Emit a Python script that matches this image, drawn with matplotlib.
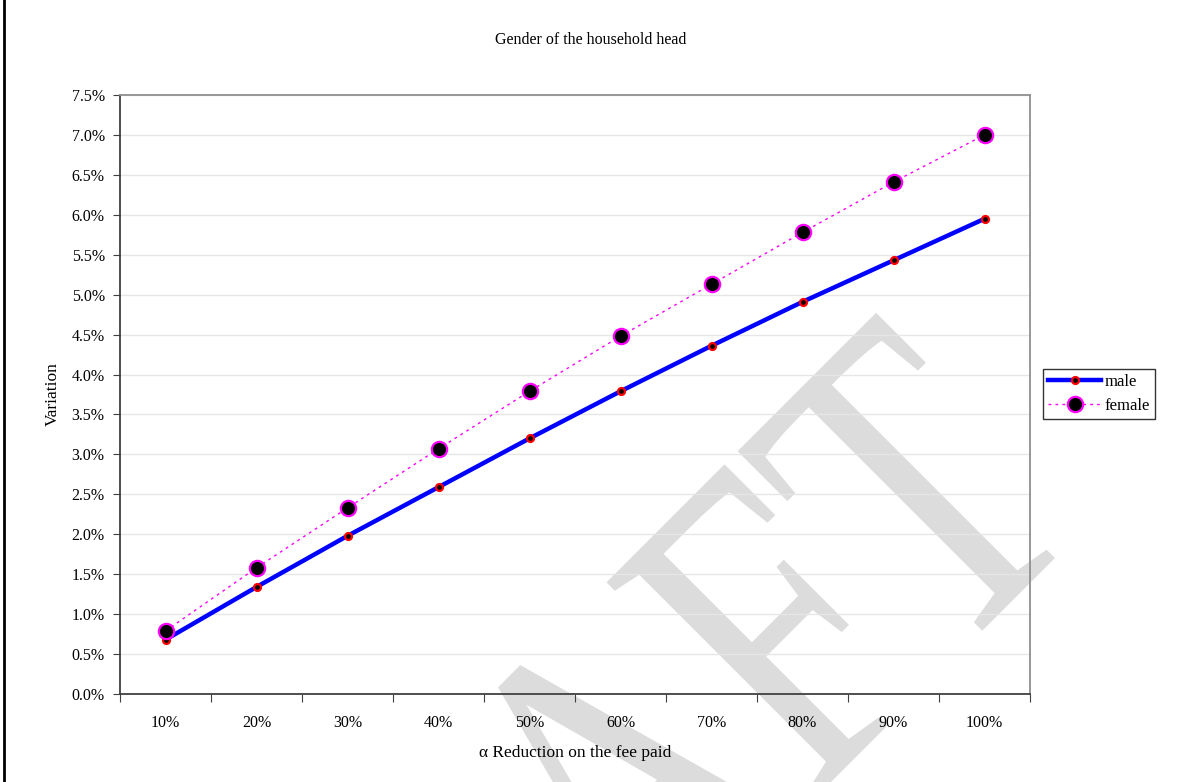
import matplotlib
matplotlib.use("Agg")
import matplotlib.pyplot as plt
from matplotlib.lines import Line2D
from matplotlib.ticker import FixedLocator, PercentFormatter
from matplotlib.textpath import TextPath
from matplotlib.patches import PathPatch
from matplotlib.transforms import Affine2D
from matplotlib.font_manager import FontProperties

# --- data ---
categories = ["10%", "20%", "30%", "40%", "50%", "60%", "70%", "80%", "90%", "100%"]
male = [0.68, 1.34, 1.98, 2.59, 3.20, 3.79, 4.36, 4.91, 5.43, 5.95]
female = [0.79, 1.58, 2.33, 3.07, 3.79, 4.48, 5.13, 5.78, 6.41, 7.00]

plt.rcParams["font.family"] = ["Liberation Serif", "DejaVu Serif"]
plt.rcParams["font.size"] = 11.5

fig = plt.figure(figsize=(11.82, 7.82), dpi=100)

# page watermark behind the chart (stretched, rotated "DRAFT")
wm = TextPath((0, 0), "DRAFT", size=1, prop=FontProperties(family="Liberation Serif"))
wm_tr = Affine2D().scale(340, 458).rotate_deg(45).translate(304, -527)
fig.add_artist(PathPatch(wm, transform=wm_tr, facecolor="#dcdcdc",
                         edgecolor="none", zorder=-1))

ax = fig.add_axes([120 / 1182, 1 - 694 / 782, 910 / 1182, 599 / 782])
ax.set_facecolor("none")

x = list(range(len(categories)))
ax.plot(x, male, color="#0000ff", lw=3.2, marker="o", ms=5,
        mfc="black", mec="red", mew=1.6, label="male", zorder=3)
ax.plot(x, female, color="#ff00ff", lw=1.0, ls=(0, (2, 3)), marker="o", ms=11,
        mfc="black", mec="#ff00ff", mew=1.6, label="female", zorder=3)

ax.set_xlim(-0.5, len(categories) - 0.5)
ax.set_ylim(0, 7.5)
ax.yaxis.set_major_locator(FixedLocator([i * 0.5 for i in range(16)]))
ax.yaxis.set_major_formatter(PercentFormatter(decimals=1))
ax.xaxis.set_major_locator(FixedLocator([i - 0.5 for i in range(len(categories) + 1)]))
ax.xaxis.set_major_formatter(plt.NullFormatter())
ax.xaxis.set_minor_locator(FixedLocator(x))
ax.set_xticks(x, categories, minor=True)
ax.tick_params(axis="x", which="minor", length=0, pad=15)
ax.tick_params(axis="x", which="major", length=6, direction="out", color="#404040")
ax.tick_params(axis="y", length=5, direction="out", color="#404040", pad=6)
ax.tick_params(labelsize=11.5)

ax.grid(axis="y", color="#e6e6e6", lw=1)
ax.set_axisbelow(True)
for s in ["left", "bottom"]:
    ax.spines[s].set_color("#404040")
    ax.spines[s].set_linewidth(1.3)
for s in ["top", "right"]:
    ax.spines[s].set_color("#909090")
    ax.spines[s].set_linewidth(1.3)

ax.set_xlabel("\u03b1 Reduction on the fee paid", fontsize=12.5, labelpad=10)
ax.set_ylabel("Variation", fontsize=12.5, labelpad=8)
fig.text(0.5, 1 - 40 / 782, "Gender of the household head", ha="center", va="center", fontsize=11.5)

leg = fig.legend(loc="upper left", bbox_to_anchor=(1043 / 1182, 1 - 369 / 782),
                 borderaxespad=0, fancybox=False, edgecolor="black",
                 fontsize=12, handlelength=3.2, handletextpad=0.2,
                 borderpad=0.3, labelspacing=0.45)
leg.get_frame().set_linewidth(1.0)

# left border of the page
fig.add_artist(Line2D([4 / 1182, 4 / 1182], [0, 1], transform=fig.transFigure,
                      color="black", lw=2))

fig.savefig("out.png", dpi=100)
